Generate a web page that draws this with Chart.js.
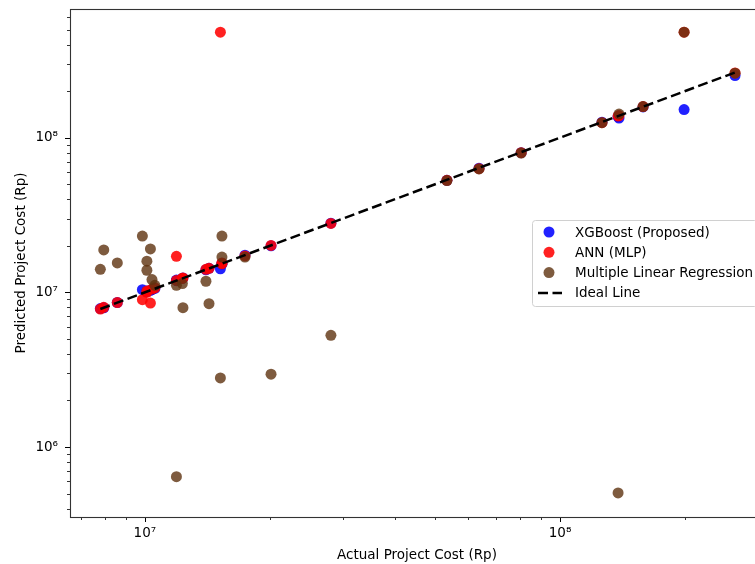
<!DOCTYPE html>
<html><head><meta charset="utf-8">
<script src="https://cdn.jsdelivr.net/npm/chart.js@4.4.1/dist/chart.umd.min.js"></script>
<style>html,body{margin:0;padding:0;overflow:hidden;background:#fff}#wrap{width:775px;height:564px}</style>
</head><body><div id="wrap"><canvas id="c" width="775" height="564"></canvas></div>
<script>
// ---- data ----
const actual  = [7.81e6, 7.96e6, 8.58e6, 9.86e6, 1.031e7, 1.011e7, 1.011e7, 1.04e7, 1.057e7, 1.191e7, 1.191e7, 1.231e7, 1.235e7, 1.403e7, 1.427e7, 1.533e7, 1.533e7, 1.52e7, 1.742e7, 2.013e7, 2.806e7, 5.34e7, 6.38e7, 8.06e7, 1.262e8, 1.387e8, 1.38e8, 1.585e8, 1.99e8, 2.64e8];
const xgbPred = [7.85e6, 7.95e6, 8.6e6, 1.04e7, 1.03e7, 1.01e7, 1.02e7, 1.04e7, 1.06e7, 1.19e7, 1.2e7, 1.23e7, 1.24e7, 1.4e7, 1.43e7, 1.52e7, 1.54e7, 1.42e7, 1.74e7, 2.0e7, 2.8e7, 5.3e7, 6.35e7, 8.0e7, 1.26e8, 1.34e8, 1.37e8, 1.58e8, 1.52e8, 2.52e8];
const annPred = [7.8e6, 8.0e6, 8.6e6, 8.97e6, 8.53e6, 1.0e7, 1.02e7, 1.05e7, 1.07e7, 1.195e7, 1.71e7, 1.23e7, 1.24e7, 1.41e7, 1.43e7, 1.53e7, 1.55e7, 4.81e8, 1.72e7, 2.01e7, 2.79e7, 5.3e7, 6.3e7, 8.0e7, 1.25e8, 1.39e8, 1.38e8, 1.59e8, 4.81e8, 2.62e8];
const mlrPred = [1.41e7, 1.88e7, 1.55e7, 2.31e7, 1.91e7, 1.59e7, 1.39e7, 1.21e7, 1.11e7, 1.11e7, 6.43e5, 1.14e7, 7.96e6, 1.18e7, 8.45e6, 2.31e7, 1.69e7, 2.8e6, 1.69e7, 2.96e6, 5.28e6, 5.28e7, 6.28e7, 7.96e7, 1.25e8, 1.42e8, 5.05e5, 1.59e8, 4.81e8, 2.61e8];
const seriesNames = ['XGBoost (Proposed)', 'ANN (MLP)', 'Multiple Linear Regression', 'Ideal Line'];
const xTitle = 'Actual Project Cost (Rp)';
const yTitle = 'Predicted Project Cost (Rp)';
const xLimits = [6.6e6, 3.1e8];
const yLimits = [3.53e5, 6.79e8];

// ---- styles ----
const colors = ['rgba(0,0,255,0.87)', 'rgba(255,0,0,0.87)', 'rgba(94,50,15,0.8)', '#000'];
const FONT = 'DejaVu Sans';
const FS = 13.5;
Chart.defaults.font.family = FONT;
Chart.defaults.font.size = FS;
Chart.defaults.color = '#000';

const pairs = (ys) => actual.map((x, i) => ({x: x, y: ys[i]}));
const lo = Math.min(...actual), hi = Math.max(...actual);

const SUP = {'0':'⁰','1':'¹','2':'²','3':'³','4':'⁴','5':'⁵','6':'⁶','7':'⁷','8':'⁸','9':'⁹','-':'⁻'};
function logTicks(scale) {
  const t = [];
  for (let e = 4; e <= 9; e++) for (let m = 1; m <= 9; m++) {
    const v = m * Math.pow(10, e);
    if (v >= scale.min && v <= scale.max) t.push({value: v, major: m === 1});
  }
  scale.ticks = t;
}
function label(v) {
  const e = Math.round(Math.log10(v));
  if (Math.abs(v - Math.pow(10, e)) < 1e-6 * v) return '10' + String(e).split('').map(c => SUP[c]).join('');
  return '';
}

const frame = {
  id: 'frame',
  afterDraw(chart) {
    const {ctx, chartArea: a, scales} = chart;
    ctx.save();
    ctx.strokeStyle = '#000';
    for (const s of [scales.x, scales.y]) {
      for (const t of s.ticks) {
        const major = t.major;
        const len = major ? 5 : 3;
        ctx.lineWidth = major ? 1 : 0.8;
        const p = s.getPixelForValue(t.value);
        ctx.beginPath();
        if (s.axis === 'x') { const px = Math.round(p) + 0.5; ctx.moveTo(px, a.bottom); ctx.lineTo(px, a.bottom + len); }
        else { const py = Math.round(p) + 0.5; ctx.moveTo(a.left, py); ctx.lineTo(a.left - len, py); }
        ctx.stroke();
      }
    }
    ctx.strokeStyle = '#333';
    ctx.lineWidth = 1.1;
    ctx.strokeRect(a.left + 0.5, a.top + 0.5, a.right - a.left, a.bottom - a.top);
    // legend (placed inside the axes, centre right)
    const w = 225, h = 86;
    const bx = a.right - 7 - w, by = (a.top + a.bottom) / 2 - h / 2;
    ctx.beginPath();
    ctx.roundRect(bx + 0.5, by + 0.5, w, h, 3);
    ctx.fillStyle = 'rgba(255,255,255,0.8)';
    ctx.fill();
    ctx.strokeStyle = '#d0d0d0';
    ctx.lineWidth = 1;
    ctx.stroke();
    ctx.font = FS + 'px "' + FONT + '"';
    ctx.textBaseline = 'middle';
    ctx.textAlign = 'left';
    seriesNames.forEach((n, i) => {
      const cy = by + 12 + i * 20.3;
      if (i < 3) {
        ctx.beginPath(); ctx.arc(bx + 17, cy, 5.5, 0, Math.PI * 2);
        ctx.fillStyle = colors[i]; ctx.fill();
      } else {
        ctx.beginPath(); ctx.setLineDash([10, 4.5]); ctx.lineWidth = 2.5;
        ctx.strokeStyle = '#000'; ctx.moveTo(bx + 6, cy); ctx.lineTo(bx + 30, cy); ctx.stroke();
        ctx.setLineDash([]);
      }
      ctx.fillStyle = '#000';
      ctx.fillText(n, bx + 43, cy + 1);
    });
    ctx.restore();
  }
};

const pointDs = (i, ys, order) => ({
  label: seriesNames[i], data: pairs(ys), backgroundColor: colors[i],
  pointRadius: 5.5, pointBorderWidth: 0, borderWidth: 0, order: order
});

new Chart(document.getElementById('c'), {
  type: 'scatter',
  data: {
    datasets: [
      pointDs(0, xgbPred, 3),
      pointDs(1, annPred, 2),
      pointDs(2, mlrPred, 1),
      {type: 'line', label: seriesNames[3], data: [{x: lo, y: lo}, {x: hi, y: hi}], showLine: true,
       borderColor: '#000', borderWidth: 2.5, borderDash: [10, 4.5], pointRadius: 0, fill: false, order: 0}
    ]
  },
  options: {
    responsive: false, animation: false, events: [],
    layout: {padding: {top: 9, right: 11, left: 0, bottom: 0}},
    plugins: {legend: {display: false}, tooltip: {enabled: false}},
    scales: {
      x: {
        type: 'logarithmic', min: xLimits[0], max: xLimits[1], bounds: 'data',
        afterBuildTicks: logTicks,
        afterFit: s => { s.height = 47; s.paddingLeft = 0; s.paddingRight = 0; },
        grid: {display: true, drawOnChartArea: false, drawTicks: true, tickLength: 5, tickColor: 'rgba(0,0,0,0)'},
        border: {display: false},
        ticks: {autoSkip: false, maxRotation: 0, padding: 3, callback: label, font: {size: FS}},
        title: {display: true, text: xTitle, font: {size: FS}, padding: {top: 0, bottom: 0}}
      },
      y: {
        type: 'logarithmic', min: yLimits[0], max: yLimits[1], bounds: 'data',
        afterBuildTicks: logTicks,
        afterFit: s => { s.width = 70; s.paddingTop = 0; s.paddingBottom = 0; },
        grid: {display: true, drawOnChartArea: false, drawTicks: true, tickLength: 5, tickColor: 'rgba(0,0,0,0)'},
        border: {display: false},
        ticks: {autoSkip: false, padding: 7, callback: label, font: {size: FS}},
        title: {display: true, text: yTitle, font: {size: FS}, padding: {top: 13, bottom: 0}}
      }
    }
  },
  plugins: [frame]
});
</script></body></html>
